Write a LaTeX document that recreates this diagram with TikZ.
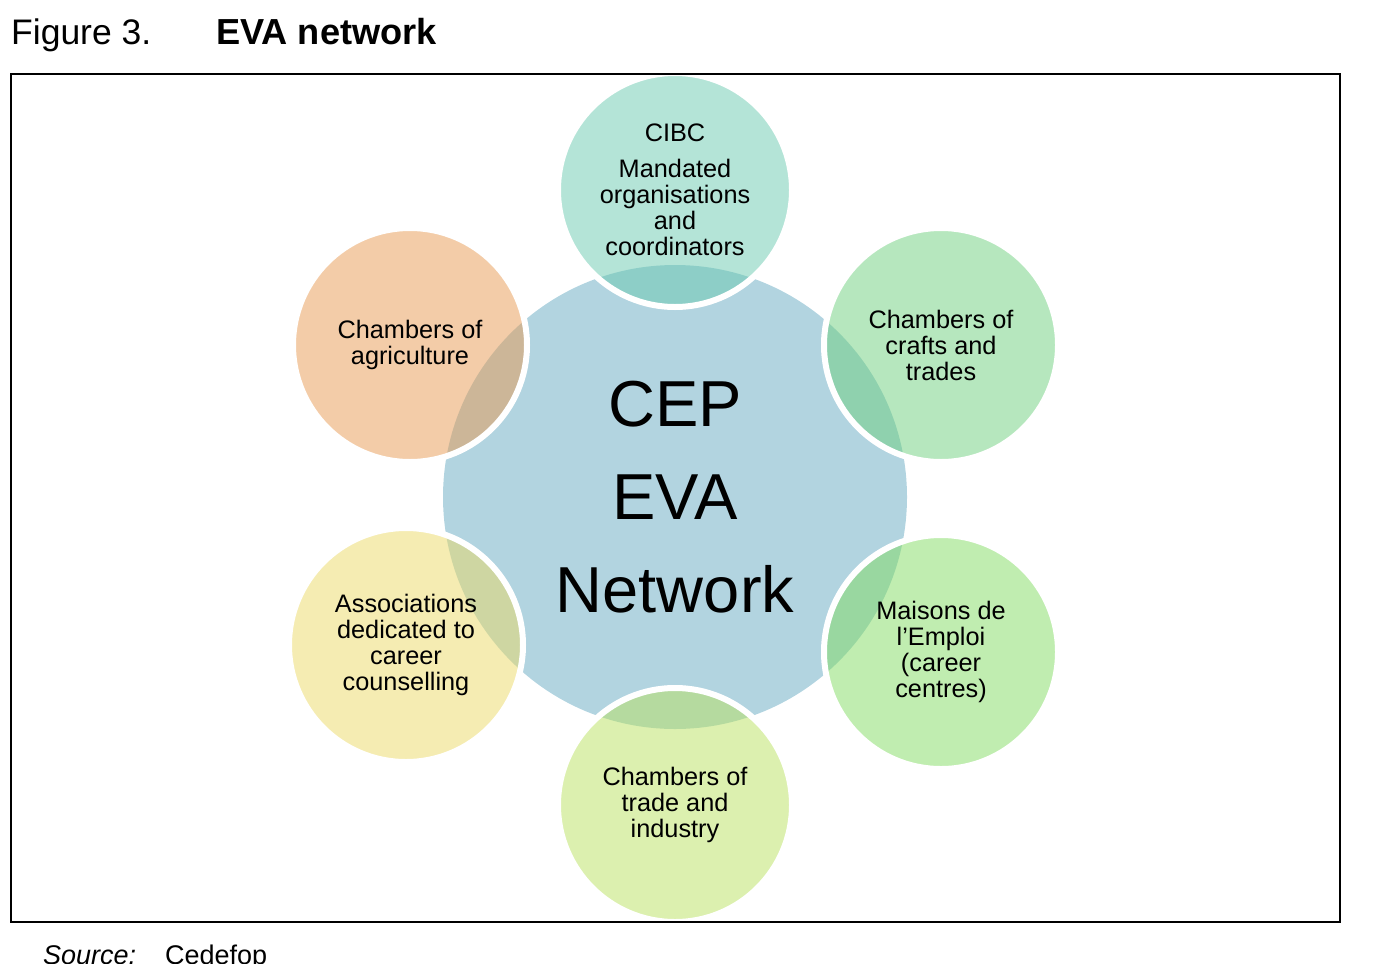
\documentclass[tikz,border=0pt]{standalone}
\usepackage{fontspec}
\setmainfont{Liberation Sans}
\definecolor{hubblue}{RGB}{178,212,224}
\definecolor{cteal}{RGB}{105,201,175}
\definecolor{cgreenA}{RGB}{109,207,125}
\definecolor{cgreenB}{RGB}{129,219,97}
\definecolor{clime}{RGB}{185,225,95}
\definecolor{cyellow}{RGB}{235,217,101}
\definecolor{cpeach}{RGB}{231,153,81}
\begin{document}
\begin{tikzpicture}[x=1pt,y=-1pt,
  hub/.style={circle, minimum size=464pt, inner sep=0pt, fill=hubblue, align=center,
    font=\fontsize{65}{93}\selectfont, text=black},
  member/.style={circle, minimum size=234pt, inner sep=0pt, fill opacity=0.5, text opacity=1,
    draw=white, draw opacity=1, line width=6pt, align=center,
    font=\fontsize{25.3}{26}\selectfont, text=black},
  title/.style={anchor=base west, inner sep=0pt, font=\fontsize{35.5}{40}\selectfont},
  src/.style={anchor=base west, inner sep=0pt, font=\fontsize{27}{30}\selectfont}]
\useasboundingbox (0,0) rectangle (1382,964);
\node[title] (fig) at (11,44) {Figure 3.};
\node[title, font=\fontsize{36.2}{40}\selectfont\bfseries] (ttl) at (216,44) {EVA network};
\node[hub] (hub) at (675,497) {CEP\\EVA\\Network};
\node[member, fill=cteal] (top) at (675,190) {CIBC\\[10pt]Mandated\\organisations\\and\\coordinators};
\node[member, fill=cgreenA] (tr) at (941,345) {Chambers of\\crafts and\\trades};
\node[member, fill=cgreenB] (br) at (941,652) {Maisons de\\l’Emploi\\(career\\centres)};
\node[member, fill=clime] (bot) at (675,805) {Chambers of\\trade and\\industry};
\node[member, fill=cyellow] (bl) at (406,645) {Associations\\dedicated to\\career\\counselling};
\node[member, fill=cpeach] (tl) at (410,345) {Chambers of\\agriculture};
\draw[line width=2pt] (11,74) rectangle (1340,922);
\node[src] (srcl) at (43,964) {\itshape Source:};
\node[src] (srcv) at (165,964) {Cedefop};
\end{tikzpicture}
\end{document}
